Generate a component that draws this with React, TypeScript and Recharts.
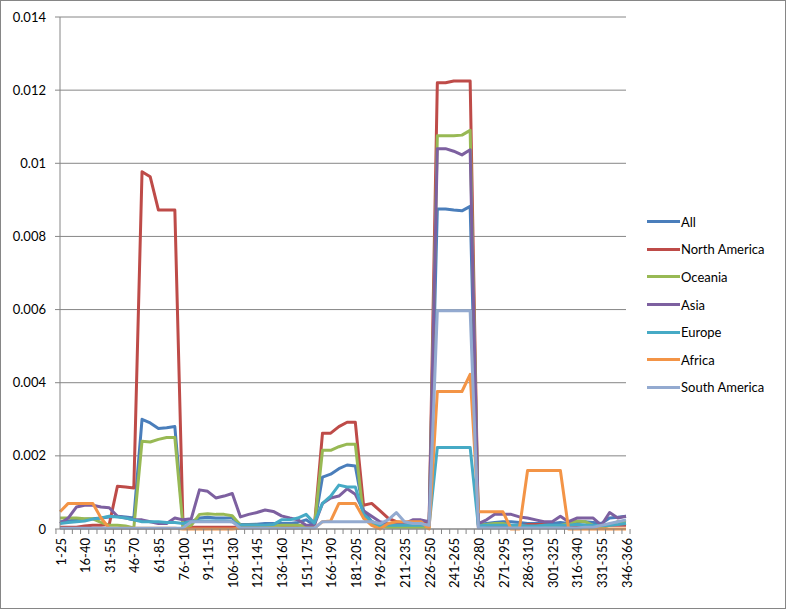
import React from 'react';
import { LineChart, Line, XAxis, YAxis, CartesianGrid } from 'recharts';

const categories = [
  '1-25', '6-30', '11-35', '16-40', '21-45', '26-50', '31-55', '36-60', '41-65', '46-70',
  '51-75', '56-80', '61-85', '66-90', '71-95', '76-100', '81-105', '86-110', '91-115', '96-120',
  '101-125', '106-130', '111-135', '116-140', '121-145', '126-150', '131-155', '136-160', '141-165', '146-170',
  '151-175', '156-180', '161-185', '166-190', '171-195', '176-200', '181-205', '186-210', '191-215', '196-220',
  '201-225', '206-230', '211-235', '216-240', '221-245', '226-250', '231-255', '236-260', '241-265', '246-270',
  '251-275', '256-280', '261-285', '266-290', '271-295', '276-300', '281-305', '286-310', '291-315', '296-320',
  '301-325', '306-330', '311-335', '316-340', '321-345', '326-350', '331-355', '336-360', '341-365', '346-366',
];

const all = [
  0.0002, 0.00022, 0.00025, 0.00027, 0.00028, 0.0003, 0.00033, 0.00035, 0.00033, 0.0003,
  0.003, 0.0029, 0.00275, 0.00277, 0.0028, 0.00018, 0.0002, 0.0003, 0.00032, 0.0003,
  0.0003, 0.0003, 0.00012, 0.00012, 0.00013, 0.00015, 0.00015, 0.00015, 0.00015, 0.00018,
  0.00025, 0.0001, 0.00142, 0.0015, 0.00165, 0.00175, 0.00172, 0.0005, 0.0002, 0.00012,
  0.0001, 0.0001, 0.0001, 0.0001, 0.00012, 0.00012, 0.00875, 0.00875, 0.00872, 0.0087,
  0.00882, 0.00012, 0.00015, 0.00018, 0.0002, 0.0002, 0.00018, 0.00015, 0.00015, 0.00015,
  0.00015, 0.00018, 0.00015, 0.00018, 0.0002, 0.00018, 0.00015, 0.0003, 0.00032, 0.00035,
];

const northAmerica = [
  0.00005, 0.00005, 0.00005, 0.00008, 0.0001, 0.0001, 0.00012, 0.00117, 0.00115, 0.00112,
  0.00977, 0.00963, 0.00872, 0.00872, 0.00872, 0.00005, 0.00005, 0.00005, 0.00005, 0.00005,
  0.00005, 0.00005, 0.00005, 0.00005, 0.00005, 0.00008, 0.00008, 0.00005, 0.00005, 0.00005,
  0.00008, 0.00005, 0.00262, 0.00262, 0.0028, 0.00292, 0.00292, 0.00065, 0.0007, 0.0005,
  0.0003, 0.0002, 0.00015, 0.00015, 0.00015, 0.0002, 0.0122, 0.0122, 0.01225, 0.01225,
  0.01225, 0.00005, 0.00005, 0.00005, 0.00005, 0.00005, 0.00008, 0.00012, 0.00012, 0.00012,
  0.00008, 0.00005, 0.00005, 0.00008, 0.00005, 0.00005, 0.00005, 0.0001, 0.0001, 0.0001,
];

const oceania = [
  0.0003, 0.0003, 0.0003, 0.00028, 0.00028, 0.00018, 0.0001, 0.0001, 0.00008, 0.00003,
  0.0024, 0.00238, 0.00245, 0.0025, 0.0025, 0.00005, 0.0001, 0.0004, 0.00042, 0.0004,
  0.0004, 0.00036, 0.0001, 0.0001, 0.0001, 0.00008, 0.00008, 0.0001, 0.0001, 0.0001,
  0.00008, 0.00005, 0.00215, 0.00215, 0.00225, 0.00232, 0.00232, 0.0003, 0.00015, 0.00008,
  0.00005, 0.00005, 0.00005, 0.00005, 0.00005, 0.00005, 0.01075, 0.01075, 0.01075, 0.01077,
  0.0109, 0.0001, 0.00012, 0.00015, 0.00015, 0.0001, 0.00005, 0.00005, 0.00005, 0.00005,
  0.00005, 0.0001, 0.00015, 0.00022, 0.0002, 0.0001, 0.00005, 0.0001, 0.0002, 0.0002,
];

const asia = [
  0.00015, 0.0003, 0.0006, 0.00065, 0.00065, 0.0006, 0.00058, 0.00035, 0.0003, 0.00025,
  0.00025, 0.0002, 0.00015, 0.00015, 0.0003, 0.00025, 0.00028, 0.00107, 0.00103, 0.00085,
  0.0009, 0.00097, 0.00033, 0.0004, 0.00045, 0.00052, 0.00048, 0.00036, 0.0003, 0.00025,
  0.0001, 0.0001, 0.0007, 0.00085, 0.0009, 0.0011, 0.00095, 0.0005, 0.00035, 0.0002,
  0.00015, 0.00015, 0.00015, 0.00025, 0.00025, 0.0002, 0.0104, 0.0104, 0.01033, 0.01023,
  0.01037, 0.00015, 0.00025, 0.0004, 0.0004, 0.0004, 0.00033, 0.0003, 0.00025, 0.0002,
  0.0002, 0.00035, 0.0002, 0.0003, 0.0003, 0.0003, 0.0001, 0.00045, 0.0003, 0.00035,
];

const europe = [
  0.00015, 0.00018, 0.0002, 0.00022, 0.00027, 0.0003, 0.00035, 0.00033, 0.0003, 0.00025,
  0.0002, 0.0002, 0.0002, 0.00018, 0.00018, 0.00015, 0.0002, 0.00022, 0.00022, 0.00022,
  0.00022, 0.0002, 0.0001, 0.0001, 0.0001, 0.0001, 0.00012, 0.00025, 0.00025, 0.0003,
  0.0004, 0.00016, 0.0007, 0.0009, 0.0012, 0.00115, 0.00115, 0.0004, 0.0002, 0.0001,
  0.0001, 0.0001, 0.0001, 0.0001, 0.0001, 0.0001, 0.00223, 0.00223, 0.00223, 0.00223,
  0.00223, 0.00008, 0.0001, 0.0001, 0.0001, 0.0001, 0.0001, 0.00008, 0.00008, 0.0001,
  0.0001, 0.0001, 0.0001, 0.00012, 0.0001, 0.0001, 0.00008, 0.0001, 0.00012, 0.00015,
];

const africa = [
  0.00047, 0.0007, 0.0007, 0.0007, 0.0007, 0.0003, 0.00002, 0.00002, 0.00002, 0.00002,
  0.00002, 0.00002, 0.00002, 0.00002, 0.00002, 0, 0, 0, 0, 0,
  0, 0, 0.00002, 0.00002, 0.00002, 0.00002, 0.00002, 0.00002, 0.00002, 0.00002,
  0.00002, 0.00002, 0.0002, 0.00022, 0.0007, 0.0007, 0.0007, 0.0003, 0.0001, 0,
  0.00015, 0.0002, 0.0002, 0.0002, 0.0002, 0, 0.00376, 0.00376, 0.00376, 0.00376,
  0.00423, 0.00047, 0.00047, 0.00047, 0.00047, 0, 0, 0.0016, 0.0016, 0.0016,
  0.0016, 0.0016, 0, 0, 0, 0, 0, 0, 0, 0,
];

const southAmerica = [
  0.00002, 0.00002, 0.00002, 0.00002, 0.00002, 0.00002, 0.00002, 0.00002, 0.00002, 0.00002,
  0.00002, 0.00002, 0.00002, 0.00002, 0.00002, 0.00003, 0.0002, 0.0002, 0.0002, 0.0002,
  0.0002, 0.0002, 0.00002, 0.00002, 0.00002, 0.00002, 0.00002, 0.00002, 0.00002, 0.00002,
  0.00002, 0.00002, 0.0002, 0.0002, 0.0002, 0.0002, 0.0002, 0.0002, 0.0002, 0.00015,
  0.00025, 0.00045, 0.0002, 0.00015, 0.00015, 0.0001, 0.00597, 0.00597, 0.00597, 0.00597,
  0.00597, 0.00003, 0.00003, 0.00003, 0.00003, 0.00003, 0.00003, 0.00003, 0.00003, 0.00003,
  0.00003, 0.00003, 0.00003, 0.00003, 0.00005, 0.00005, 0.0001, 0.00015, 0.0002, 0.00025,
];

const yTicks = [0, 0.002, 0.004, 0.006, 0.008, 0.01, 0.012, 0.014];
const yTickLabels = ['0', '0.002', '0.004', '0.006', '0.008', '0.01', '0.012', '0.014'];

const series = [
  { key: 'all', name: 'All', color: '#4A7EBB', values: all },
  { key: 'na', name: 'North America', color: '#BE4B48', values: northAmerica },
  { key: 'oc', name: 'Oceania', color: '#98B954', values: oceania },
  { key: 'as', name: 'Asia', color: '#7D60A0', values: asia },
  { key: 'eu', name: 'Europe', color: '#46AAC5', values: europe },
  { key: 'af', name: 'Africa', color: '#F39446', values: africa },
  { key: 'sa', name: 'South America', color: '#93AAD0', values: southAmerica },
];

const data = categories.map((c, i) => {
  const row: Record<string, string | number> = { range: c };
  series.forEach(s => { row[s.key] = s.values[i]; });
  return row;
});

const FONT = 'Lato, "Open Sans", sans-serif';
const AXIS = '#868686';
const BAND = 566 / categories.length;

const XTick = (props: any) => {
  const { x, y, payload } = props;
  const idx = categories.indexOf(payload.value);
  return (
    <g>
      <line x1={x - BAND / 2} x2={x - BAND / 2} y1={y} y2={y + 5} stroke={AXIS} />
      {idx === categories.length - 1 && (
        <line x1={x + BAND / 2} x2={x + BAND / 2} y1={y} y2={y + 5} stroke={AXIS} />
      )}
      {idx % 3 === 0 && (
        <text
          transform={`translate(${x + 1},${y + 9}) rotate(-90)`}
          textAnchor="end"
          dy="0.35em"
          fontSize={13}
          fontFamily={FONT}
          fill="#000"
        >
          {payload.value}
        </text>
      )}
    </g>
  );
};

export default function App() {
  return (
    <div style={{ position: 'relative', width: 788, height: 611, background: '#fff' }}>
      <style>{'body{margin:0}'}</style>
      <div
        style={{
          position: 'absolute', left: 0, top: 0, width: 786, height: 609,
          border: `1px solid ${AXIS}`, boxSizing: 'border-box', pointerEvents: 'none',
        }}
      />
      <LineChart
        width={788}
        height={611}
        data={data}
        margin={{ top: 17, right: 162, bottom: 0, left: 0 }}
      >
        <CartesianGrid vertical={false} stroke={AXIS} strokeWidth={1} />
        <XAxis
          dataKey="range"
          interval={0}
          height={82}
          stroke={AXIS}
          tickLine={false}
          tickSize={0}
          tickMargin={0}
          tick={<XTick />}
        />
        <YAxis
          width={60}
          domain={[0, 0.014]}
          ticks={yTicks}
          stroke={AXIS}
          tickSize={5}
          tickMargin={9}
          tick={{ fill: '#000', fontSize: 13, fontFamily: FONT }}
          tickFormatter={(v: number) => yTickLabels[yTicks.indexOf(v)] ?? String(v)}
        />
        {series.map(s => (
          <Line
            key={s.key}
            type="linear"
            dataKey={s.key}
            name={s.name}
            stroke={s.color}
            strokeWidth={3}
            strokeLinejoin="round"
            dot={false}
            activeDot={false}
            isAnimationActive={false}
          />
        ))}
      </LineChart>
      <div
        style={{
          position: 'absolute', left: 647, top: 208, fontFamily: FONT, fontSize: 13, color: '#000',
        }}
      >
        {series.map(s => (
          <div key={s.key} style={{ display: 'flex', alignItems: 'center', height: 27.6 }}>
            <div style={{ width: 33, height: 3, background: s.color, marginRight: 1 }} />
            <span>{s.name}</span>
          </div>
        ))}
      </div>
    </div>
  );
}
